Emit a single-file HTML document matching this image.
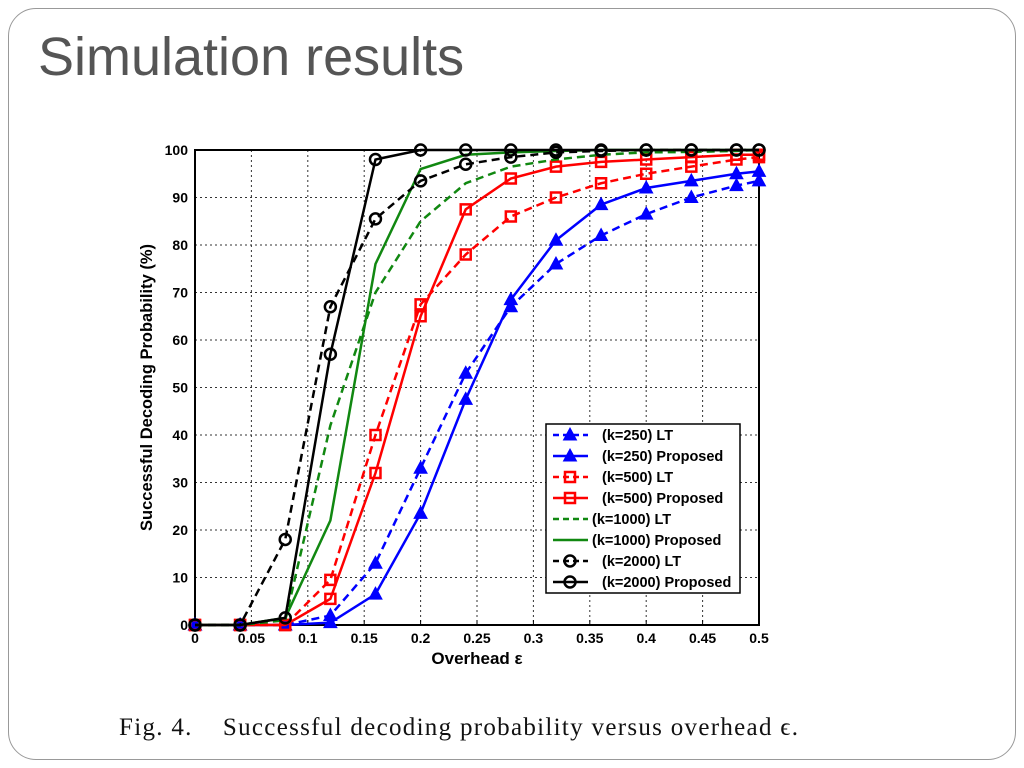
<!DOCTYPE html>
<html><head><meta charset="utf-8"><style>
body{margin:0;width:1024px;height:768px;background:#fff;overflow:hidden;font-family:"Liberation Sans",sans-serif}
#slide{position:absolute;left:8px;top:8px;width:1008px;height:752px;border:1.5px solid #999;border-radius:28px;box-sizing:border-box}
#title{position:absolute;left:38px;top:26px;font-size:54px;color:#555;margin:0;font-weight:normal}
#caption{position:absolute;left:119px;top:714px;font-family:"Liberation Serif",serif;font-size:25px;letter-spacing:1.3px;color:#111;white-space:pre}
</style></head><body>
<div id="slide"></div>
<h1 id="title">Simulation results</h1>
<div id="caption">Fig. 4.    Successful decoding probability versus overhead ϵ.</div>
<svg id="chart" width="1024" height="768" style="position:absolute;left:0;top:0"></svg>
<script>
const xVals=[0,0.04,0.08,0.12,0.16,0.2,0.24,0.28,0.32,0.36,0.4,0.44,0.48,0.5];
const k250LT=[0,0,0,2,13,33,53,67,76,82,86.5,90,92.5,93.5];
const k250Prop=[0,0,0,0.5,6.5,23.5,47.5,68.5,81,88.5,92,93.5,95,95.5];
const k500LT=[0,0,0,9.5,40,67.5,78,86,90,93,95,96.5,98,98.5];
const k500Prop=[0,0,0,5.5,32,65,87.5,94,96.5,97.5,98,98.5,99,99];
const k1000LT=[0,0,1,42,70,85,93,96.5,98,99,99.5,99.6,99.8,100];
const k1000Prop=[0,0,1.5,22,76,96,99,99.5,99.8,100,100,100,100,100];
const k2000LT=[0,0,18,67,85.5,93.5,97,98.5,99.5,99.8,100,100,100,100];
const k2000Prop=[0,0,1.5,57,98,100,100,100,100,100,100,100,100,100];
const xTicks=[0,0.05,0.1,0.15,0.2,0.25,0.3,0.35,0.4,0.45,0.5];
const yTicks=[0,10,20,30,40,50,60,70,80,90,100];
const series=[
 {name:"(k=250) LT",data:k250LT,color:"#0000ff",dash:"8,5",marker:"tri"},
 {name:"(k=250) Proposed",data:k250Prop,color:"#0000ff",dash:"",marker:"tri"},
 {name:"(k=500) LT",data:k500LT,color:"#ff0000",dash:"8,5",marker:"sq"},
 {name:"(k=500) Proposed",data:k500Prop,color:"#ff0000",dash:"",marker:"sq"},
 {name:"(k=1000) LT",data:k1000LT,color:"#118811",dash:"8,5",marker:""},
 {name:"(k=1000) Proposed",data:k1000Prop,color:"#118811",dash:"",marker:""},
 {name:"(k=2000) LT",data:k2000LT,color:"#000000",dash:"8,5",marker:"circ"},
 {name:"(k=2000) Proposed",data:k2000Prop,color:"#000000",dash:"",marker:"circ"}];
const L=195,R=759,T=150,B=625;
const X=v=>L+(v/0.5)*(R-L), Y=v=>B-(v/100)*(B-T);
const svg=document.getElementById('chart');const NS="http://www.w3.org/2000/svg";
function mk(t,a,p){const e=document.createElementNS(NS,t);for(const k in a)e.setAttribute(k,a[k]);(p||svg).appendChild(e);return e;}
const grid=mk('g',{});


xTicks.forEach(t=>{mk('line',{x1:X(t),x2:X(t),y1:T,y2:B,stroke:'#333','stroke-width':1,'stroke-dasharray':'2,3'},grid);
 mk('line',{x1:X(t),x2:X(t),y1:B,y2:B-5,stroke:'#000'},grid);
 const tx=mk('text',{x:X(t),y:B+18,'text-anchor':'middle','font-size':14,'font-weight':'bold'});tx.textContent=String(t);
 
 });
yTicks.forEach(t=>{mk('line',{x1:L,x2:R,y1:Y(t),y2:Y(t),stroke:'#333','stroke-width':1,'stroke-dasharray':'2,3'},grid);
 const tx=mk('text',{x:L-7,y:Y(t)+5,'text-anchor':'end','font-size':14,'font-weight':'bold'});tx.textContent=t;
 
 });
const frame=mk('rect',{x:L,y:T,width:R-L,height:B-T,fill:'none',stroke:'#000','stroke-width':2});


function marker(g,type,x,y,c){
 if(type==='tri')mk('path',{d:`M${x},${y-7}L${x+6.5},${y+5}L${x-6.5},${y+5}Z`,fill:c,stroke:c},g);
 else if(type==='sq')mk('rect',{x:x-5,y:y-5,width:10,height:10,fill:'none',stroke:c,'stroke-width':2.5},g);
 else if(type==='circ')mk('circle',{cx:x,cy:y,r:5.5,fill:'none',stroke:c,'stroke-width':2.5},g);}
series.forEach(s=>{const g=mk('g',{});
 
 
 mk('polyline',{points:xVals.map((x,i)=>X(x)+','+Y(s.data[i])).join(' '),fill:'none',stroke:s.color,'stroke-width':2.5,'stroke-dasharray':s.dash},g);
 if(s.marker)xVals.forEach((x,i)=>marker(g,s.marker,X(x),Y(s.data[i]),s.color));});
const xl=mk('text',{x:(L+R)/2,y:664,'text-anchor':'middle','font-size':17,'font-weight':'bold'});xl.textContent='Overhead ε';


const yl=mk('text',{x:0,y:0,'text-anchor':'middle','font-size':16.5,'font-weight':'bold',transform:`translate(152,${(T+B)/2}) rotate(-90)`});yl.textContent='Successful Decoding Probability (%)';


const lg=mk('g',{});


mk('rect',{x:546,y:424,width:194,height:169,fill:'#fff',stroke:'#000','stroke-width':1.5},lg);
series.forEach((s,i)=>{const y=435+i*21;const e=mk('g',{},lg);
 
 
 mk('line',{x1:553,x2:588,y1:y,y2:y,stroke:s.color,'stroke-width':2.5,'stroke-dasharray':s.dash?'6,4':''},e);
 if(s.marker)marker(e,s.marker,570,y,s.color);
 const t=mk('text',{x:s.marker?602:592,y:y+5,'font-size':14.5,'font-weight':'bold'},e);t.textContent=s.name;});
</script>
</body></html>
